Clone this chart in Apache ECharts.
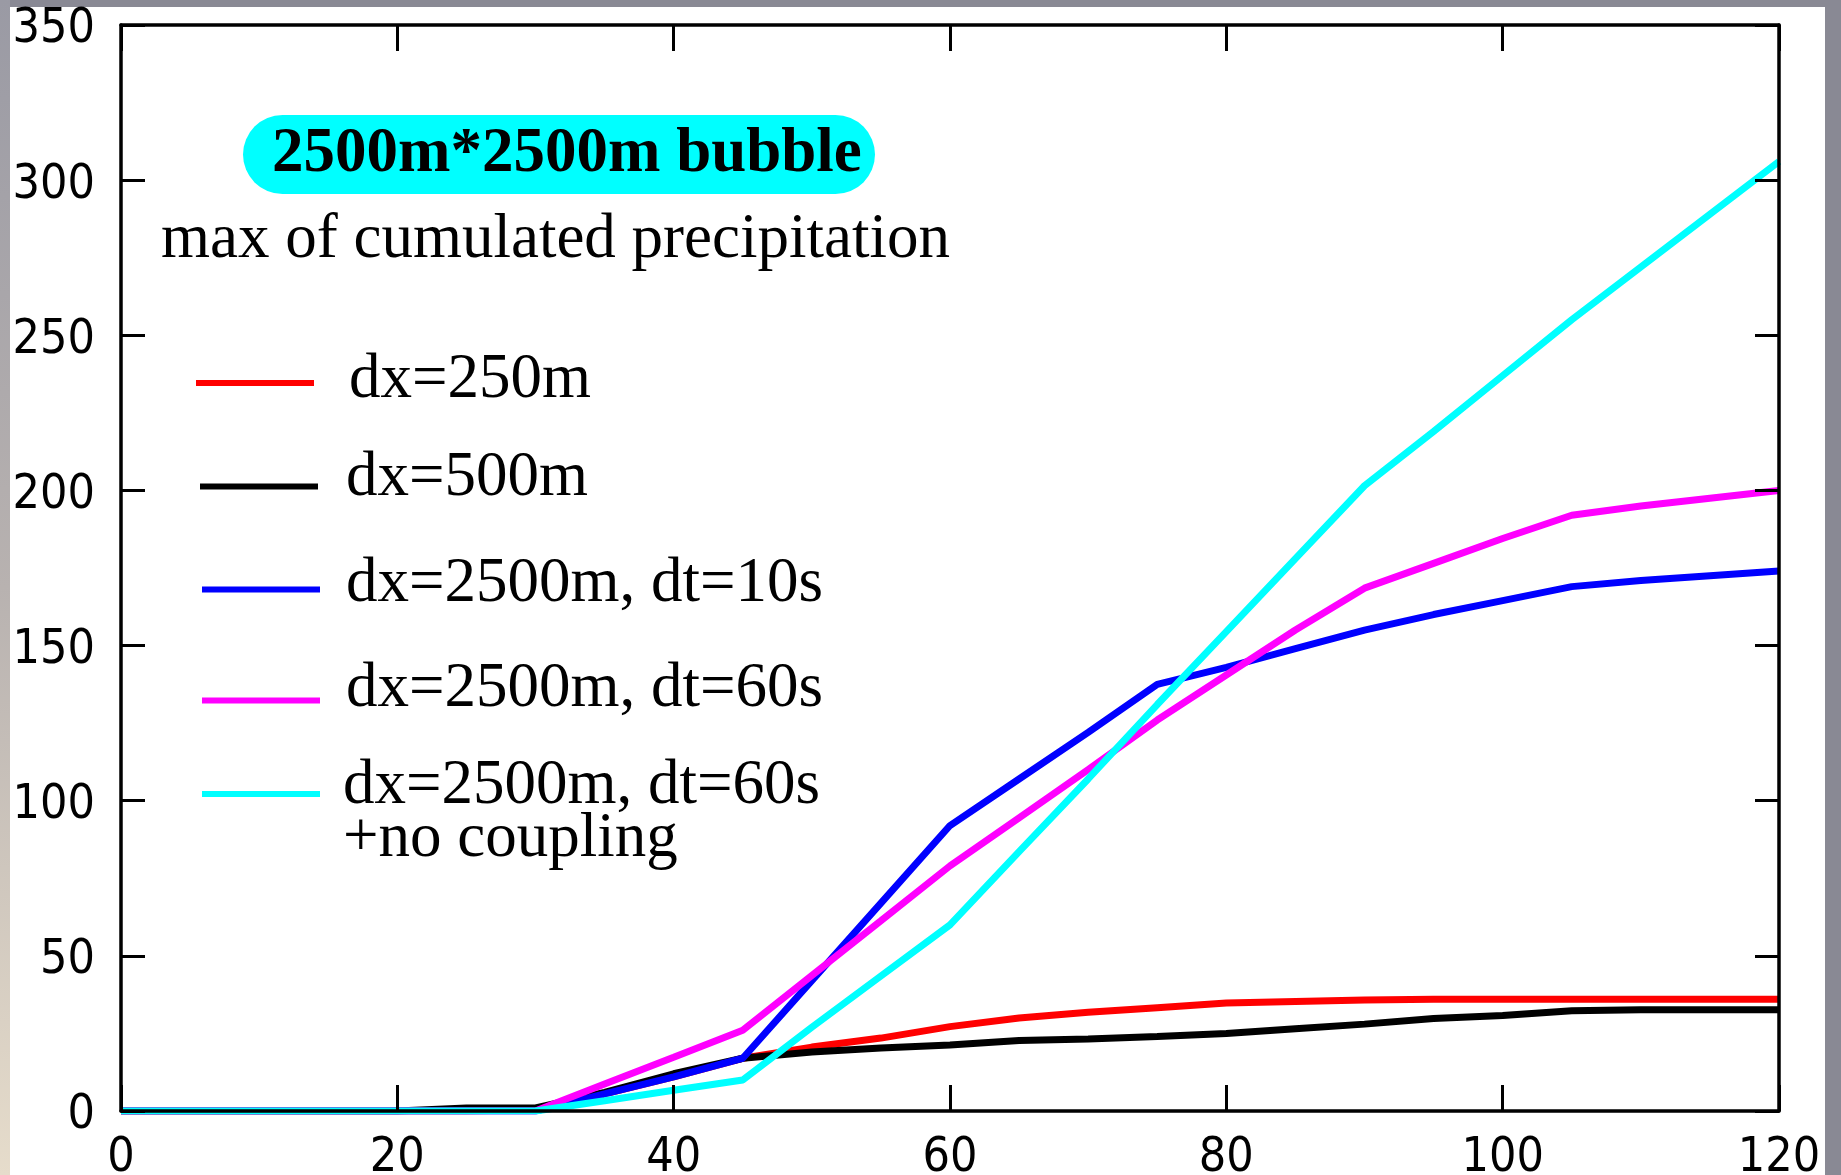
<!DOCTYPE html>
<html>
<head>
<meta charset="utf-8">
<script src="https://cdn.jsdelivr.net/npm/echarts@6/dist/echarts.min.js"></script>
<style>
  html, body { margin: 0; padding: 0; }
  body {
    width: 1841px; height: 1175px; overflow: hidden; position: relative;
    background: #898994;
  }
  .left-edge {
    position: absolute; left: 0; top: 0; width: 10px; height: 1175px;
    background: linear-gradient(to bottom, #9a9aa4 0%, #b8b2b0 50%, #e6dccb 100%);
  }
  .paper {
    position: absolute; left: 10px; top: 7px; width: 1815px; height: 1168px;
    background: #ffffff;
  }
  #chart { position: absolute; left: 0; top: 0; width: 1841px; height: 1175px; }
</style>
</head>
<body>
<div class="left-edge"></div>
<div class="paper"></div>
<div id="chart"></div>
<script>
  // time (x) and max of cumulated precipitation for each run
  const minutes = [0, 5, 10, 15, 20, 25, 30, 35, 40, 45, 50, 55, 60, 65, 70, 75, 80, 85, 90, 95, 100, 105, 110, 115, 120];
  const dx250 = [0, 0, 0, 0, 0, 0, 0.5, 5.5, 11, 17, 20.6, 23.5, 27.2, 30, 31.8, 33.3, 34.8, 35.3, 35.8, 36, 36, 36, 36, 36, 36];
  const dx500 = [0, 0, 0, 0, 0, 1, 1, 6, 12, 17, 19, 20.3, 21.3, 22.7, 23.2, 24, 25, 26.5, 28, 29.8, 30.8, 32.3, 32.6, 32.6, 32.6];
  const dx2500dt10 = [0, 0, 0, 0, 0, 0, 0, 5.5, 11, 17, 42, 67, 92, 107, 122, 137.5, 143, 149, 155, 160, 164.5, 169, 171, 172.5, 174];
  const dx2500dt60 = [0, 0, 0, 0, 0, 0, 0, 8.7, 17.3, 26, 43.7, 61.3, 79, 94.5, 110, 126, 140.5, 155, 168.5, 176.5, 184.5, 192, 195, 197.5, 200];
  const dx2500dt60nc = [0, 0, 0, 0, 0, 0, 0, 3.3, 6.7, 10, 27, 43.5, 60, 83.6, 107, 131, 154.5, 178, 201.5, 219, 237, 255, 272, 289, 306];

  const seriesNames = ['dx=250m', 'dx=500m', 'dx=2500m, dt=10s', 'dx=2500m, dt=60s', 'dx=2500m, dt=60s\n+no coupling'];
  const seriesColors = ['#ff0000', '#000000', '#0000ff', '#ff00ff', '#00ffff'];
  const seriesValues = [dx250, dx500, dx2500dt10, dx2500dt60, dx2500dt60nc];

  const xTicks = [0, 20, 40, 60, 80, 100, 120];
  const yTicks = [0, 50, 100, 150, 200, 250, 300, 350];

  const chart = echarts.init(document.getElementById('chart'), null, {renderer: 'canvas'});

  const labelFont = "'DejaVu Sans Condensed', 'Liberation Sans', sans-serif";
  const serifFont = "'Liberation Serif', 'DejaVu Serif', serif";

  function makeSeries(i) {
    return {
      name: seriesNames[i],
      type: 'line',
      showSymbol: false,
      color: seriesColors[i],
      lineStyle: {color: seriesColors[i], width: 7},
      data: minutes.map((m, k) => [m, seriesValues[i][k]])
    };
  }

  // one legend block per entry, so each sits where the original put it;
  // the blank "s" line nudges the text against the line sample
  const legendLeft = [196, 200, 202, 202, 202];
  const legendTop = [349, 447, 553, 658, 722];
  const legendPadLeft = [30, 23, 21, 21, 18];
  const legendSpacer = [5, 16, 10, 22, 38];
  const legends = seriesNames.map((name, i) => {
    const parts = name.split('\n');
    return {
      left: legendLeft[i],
      top: legendTop[i],
      padding: 0,
      orient: 'vertical',
      selectedMode: false,
      icon: 'rect',
      itemWidth: 118,
      itemHeight: 6,
      formatter: () => parts.length > 1
        ? '{s|\u00a0}\n' + parts.map(p => '{u|' + p + '}').join('\n')
        : '{t|' + parts[0] + '}\n{s|\u00a0}',
      textStyle: {
        color: '#000',
        padding: [0, 0, 0, legendPadLeft[i]],
        rich: {
          t: {fontFamily: serifFont, fontSize: 63, lineHeight: 60, color: '#000'},
          u: {fontFamily: serifFont, fontSize: 63, lineHeight: 53, color: '#000'},
          s: {fontSize: legendSpacer[i], lineHeight: legendSpacer[i]}
        }
      },
      data: [name]
    };
  });

  function frameAxis(extra) {
    return Object.assign({
      type: 'value', z: 5,
      axisLine: {show: true, onZero: false, lineStyle: {color: '#000', width: 3.5}},
      axisTick: {show: true, inside: true, lineStyle: {color: '#000', width: 3}},
      splitLine: {show: false}
    }, extra);
  }

  chart.setOption({
    animation: false,
    backgroundColor: 'transparent',
    grid: {left: 121, right: 62, top: 25, bottom: 64, outerBoundsMode: 'none', containLabel: false},
    legend: legends,
    xAxis: [
      frameAxis({
        position: 'bottom', min: 0, max: 120, interval: 20,
        axisTick: {show: true, inside: true, length: 26, lineStyle: {color: '#000', width: 3}},
        axisLabel: {
          margin: 24, fontFamily: labelFont, fontSize: 48, color: '#000',
          formatter: v => xTicks.indexOf(v) >= 0 ? String(v) : ''
        }
      }),
      frameAxis({
        position: 'top', min: 0, max: 120, interval: 20,
        axisTick: {show: true, inside: true, length: 26, lineStyle: {color: '#000', width: 3}},
        axisLabel: {show: false}
      })
    ],
    yAxis: [
      frameAxis({
        position: 'left', min: 0, max: 350, interval: 50,
        axisTick: {show: true, inside: true, length: 24, lineStyle: {color: '#000', width: 3}},
        axisLabel: {
          margin: 26, color: '#000',
          formatter: v => yTicks.indexOf(v) >= 0 ? '{s|\u00a0}\n{v|' + v + '}' : '',
          rich: {
            v: {fontFamily: labelFont, fontSize: 48, lineHeight: 52, color: '#000'},
            s: {fontSize: 10, lineHeight: 10}
          }
        }
      }),
      frameAxis({
        position: 'right', min: 0, max: 350, interval: 50,
        axisTick: {show: true, inside: true, length: 24, lineStyle: {color: '#000', width: 3}},
        axisLabel: {show: false}
      })
    ],
    graphic: [
      {
        type: 'rect',
        shape: {x: 243, y: 115, width: 632, height: 79, r: 40},
        style: {fill: '#00ffff'}
      },
      {
        type: 'text',
        x: 272, y: 155,
        style: {
          text: '2500m*2500m bubble',
          font: "bold 63px " + serifFont,
          fill: '#000',
          verticalAlign: 'middle'
        }
      },
      {
        type: 'text',
        x: 161, y: 240,
        style: {
          text: 'max of cumulated precipitation',
          font: "63px " + serifFont,
          fill: '#000',
          verticalAlign: 'middle'
        }
      }
    ],
    series: seriesNames.map((n, i) => makeSeries(i))
  });
</script>
</body>
</html>
